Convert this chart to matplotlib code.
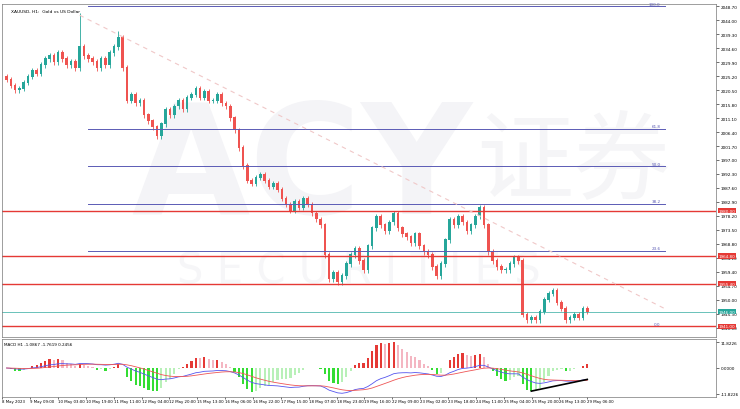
import matplotlib
matplotlib.use("Agg")
import matplotlib.pyplot as plt
import numpy as np

closes = [2024, 2022, 2020.5, 2021, 2023, 2025, 2027, 2026, 2029, 2031,
          2032, 2030, 2033, 2031, 2029, 2030, 2028, 2035, 2032, 2031,
          2030, 2028, 2031, 2029, 2033, 2035, 2038, 2028, 2017, 2019,
          2016, 2017, 2012, 2010, 2008, 2005, 2009, 2014, 2012, 2015,
          2017, 2014, 2018, 2019, 2021, 2018, 2020, 2017, 2017, 2019,
          2016, 2015, 2011, 2007, 2001, 1995, 1990, 1989, 1991, 1992,
          1990, 1988, 1989, 1987, 1984, 1982, 1980, 1983, 1981, 1984,
          1982, 1979, 1977, 1975, 1965, 1957, 1959, 1956, 1958, 1962,
          1965, 1967, 1963, 1960, 1968, 1974, 1978, 1975, 1973, 1976,
          1979, 1974, 1972, 1971, 1969, 1972, 1968, 1966, 1965, 1961,
          1958, 1962, 1970, 1977, 1975, 1978, 1976, 1973, 1975, 1978,
          1981, 1975, 1966, 1963, 1961, 1960, 1960, 1962, 1964, 1963,
          1945, 1943, 1944, 1943, 1946, 1950, 1952, 1953, 1949, 1947,
          1943, 1944, 1945, 1944, 1947, 1946]
spikes = {17: 2046.5, 26: 2040.5}
red_levels = [1980.0, 1964.8, 1955.4, 1941.0]
current_price = 1946.0
fib_high, fib_low = 2048.7, 1941.0
fib_ratios = [100.0, 61.8, 50.0, 38.2, 23.6, 0.0]
xlabels = ["8 May 2023", "9 May 09:00", "10 May 03:00", "10 May 19:00", "11 May 11:00",
           "12 May 04:00", "12 May 20:00", "15 May 13:00", "16 May 06:00", "16 May 22:00",
           "17 May 15:00", "18 May 07:00", "18 May 23:00", "19 May 16:00", "22 May 09:00",
           "23 May 02:00", "23 May 18:00", "24 May 11:00", "25 May 04:00", "25 May 20:00",
           "26 May 13:00", "29 May 06:00"]

c = np.array(closes, float)
o = np.r_[c[0] + 1, c[:-1]]
n = len(c)
hi = np.maximum(o, c) + 0.9
lo = np.minimum(o, c) - 0.9
for k, v in spikes.items():
    hi[k] = v
idx = np.arange(n)

fig = plt.figure(figsize=(7.4, 4.1), dpi=100)
ax = fig.add_axes([0.003, 0.176, 0.965, 0.812])
mx = fig.add_axes([0.003, 0.03, 0.965, 0.14], sharex=ax)

up = c >= o
GREEN, RED = "#26a69a", "#ef5350"
cols = np.where(up, GREEN, RED)
ax.vlines(idx, lo, hi, colors=cols, lw=0.6)
ax.bar(idx, np.abs(c - o) + 0.3, bottom=np.minimum(o, c), width=0.6, color=cols, lw=0)

xmax = 165
for r in fib_ratios:
    p = fib_low + (fib_high - fib_low) * r / 100
    ax.plot([19, 153], [p, p], color="#5b5bb5", lw=0.7)
    ax.text(152, p + 0.6, f"{r:.1f}", fontsize=3, color="#5b5bb5", ha="right")
for p in red_levels:
    ax.axhline(p, color="#e53935", lw=1.0)
    ax.text(1.003, p, f"{p:.2f}", transform=ax.get_yaxis_transform(), fontsize=3,
            color="white", va="center", bbox=dict(fc="#e53935", ec="none", pad=0.6))
ax.axhline(current_price, color="#26a69a", lw=0.6, alpha=0.8)
ax.text(1.003, current_price, f"{current_price:.2f}", transform=ax.get_yaxis_transform(),
        fontsize=3, color="white", va="center", bbox=dict(fc="#26a69a", ec="none", pad=0.6))
ax.plot([17, 153], [2045.7, 1947], color="#f0c8c8", lw=0.8, ls=(0, (4, 4)))

ax.text(0.42, 0.5, "ACY", transform=ax.transAxes, fontsize=110, color="#f4f4f7",
        ha="center", va="center", fontweight="bold", zorder=0, family="DejaVu Sans")
ax.text(0.8, 0.52, "证券", transform=ax.transAxes, fontsize=70, color="#f5f5f7",
        ha="center", va="center", zorder=0, family=["Noto Sans CJK SC", "DejaVu Sans"])
ax.text(0.5, 0.2, "S E C U R I T I E S", transform=ax.transAxes, fontsize=30,
        color="#f6f6f8", ha="center", va="center", zorder=0)
ax.text(0.012, 0.985, "XAUUSD, H1:  Gold vs US Dollar", transform=ax.transAxes,
        fontsize=3.2, va="top")

ax.set_xlim(-1, xmax)
ax.set_ylim(1937.5, 2049.5)
ticks = [2048.7 - 4.7 * k for k in range(24)]
ax.yaxis.tick_right()
ax.set_yticks(ticks)
ax.set_yticklabels([f"{t:.2f}" for t in ticks], fontsize=3)
ax.tick_params(axis="y", length=2, width=0.4, pad=1)
ax.tick_params(axis="x", bottom=False, labelbottom=False)

def ema(x, s):
    a = 2 / (s + 1); out = np.empty_like(x); out[0] = x[0]
    for i in range(1, len(x)):
        out[i] = a * x[i] + (1 - a) * out[i - 1]
    return out
macd = ema(c, 12) - ema(c, 26)
sig = ema(macd, 9)
hist = macd - sig
dh = np.r_[0, np.diff(hist)]
hc = [("#e53935" if d > 0 else "#f4b6c2") if h > 0 else ("#33dd33" if d < 0 else "#b8f0b8")
      for h, d in zip(hist, dh)]
hs = hist * 4
mx.bar(idx, hs, width=0.5, color=hc)
mx.plot(idx, macd, color="#5555ee", lw=0.6)
mx.plot(idx, sig, color="#ee5555", lw=0.6)
imin = 112 + int(np.argmin(hs[112:125]))
mx.plot([imin, n - 1], [hs[imin], macd[-1]], color="black", lw=1.2)
mx.text(0.003, 0.95, "MACD H1 -1.0867 -1.7619 0.2456", transform=mx.transAxes,
        fontsize=3, va="top")
mx.yaxis.tick_right()
lim = max(abs(macd).max(), abs(hs).max()) * 1.1
mx.set_ylim(-lim, lim)
mx.set_yticks([lim * 0.9, 0, -lim * 0.9])
mx.set_yticklabels([f"{lim*0.9:.4f}", "0.0000", f"{-lim*0.9:.4f}"], fontsize=3)
mx.tick_params(axis="y", length=2, width=0.4, pad=1)
pos = np.linspace(-1, 135, len(xlabels))
mx.set_xticks(pos)
mx.set_xticklabels(xlabels, fontsize=2.8, ha="left")
mx.tick_params(axis="x", length=1.5, width=0.4, pad=0.5)
for a in (ax, mx):
    for s in a.spines.values():
        s.set_linewidth(0.5); s.set_color("#777777")
fig.savefig("out.png", dpi=100)
